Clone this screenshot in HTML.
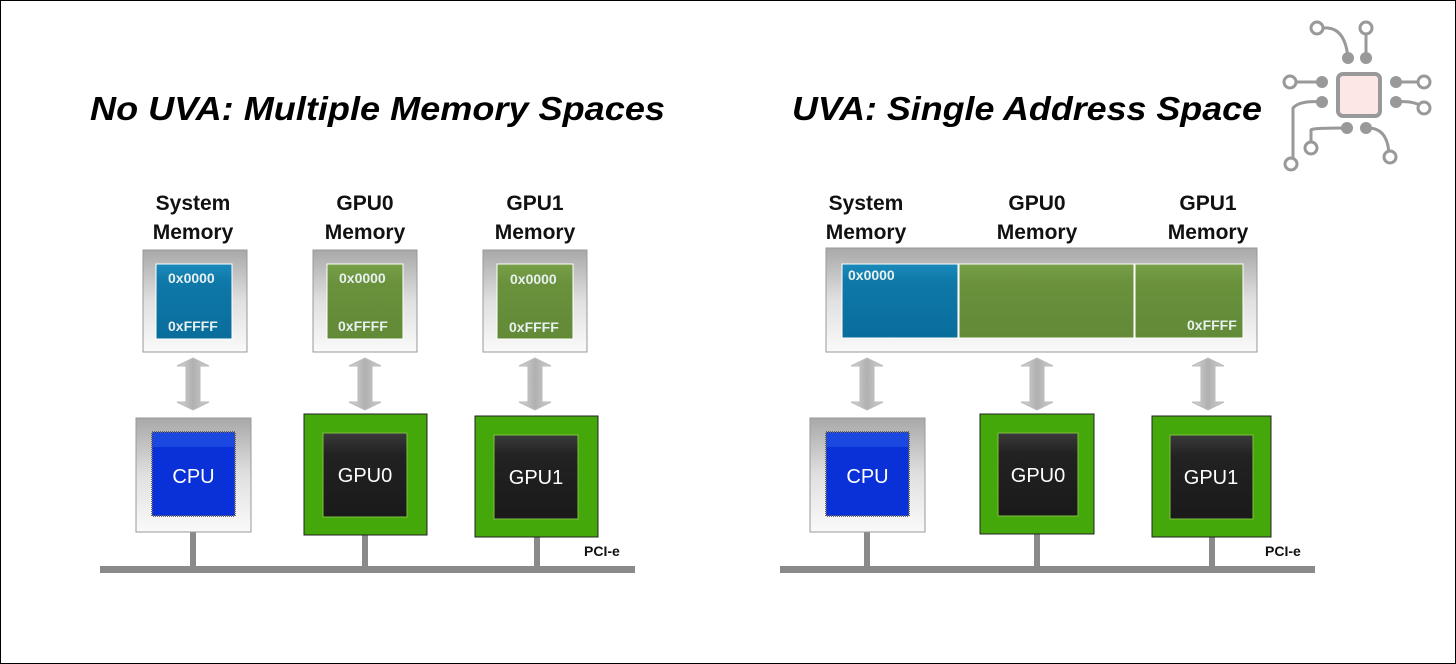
<!DOCTYPE html>
<html><head><meta charset="utf-8"><style>
html,body{margin:0;padding:0;background:#fff}
svg{display:block}
text{font-family:"Liberation Sans",sans-serif}
</style></head><body>
<svg width="1456" height="664" viewBox="0 0 1456 664" xmlns="http://www.w3.org/2000/svg">
<defs>
<linearGradient id="gbox" x1="0" y1="0" x2="0" y2="1"><stop offset="0" stop-color="#a8a8a8"/><stop offset="0.5" stop-color="#e0e0e0"/><stop offset="1" stop-color="#fafafa"/></linearGradient>
<linearGradient id="garr" x1="0" y1="0" x2="1" y2="0"><stop offset="0" stop-color="#d8d8d8"/><stop offset="0.5" stop-color="#b0b0b0"/><stop offset="1" stop-color="#d0d0d0"/></linearGradient>
<linearGradient id="gblue" x1="0" y1="0" x2="0" y2="1"><stop offset="0" stop-color="#1a8abb"/><stop offset="0.25" stop-color="#0e78a8"/><stop offset="1" stop-color="#0a6d9c"/></linearGradient>
<linearGradient id="ggreen" x1="0" y1="0" x2="0" y2="1"><stop offset="0" stop-color="#78a048"/><stop offset="0.25" stop-color="#6a913c"/><stop offset="1" stop-color="#628a37"/></linearGradient>
<linearGradient id="gdark" x1="0" y1="0" x2="0" y2="1"><stop offset="0" stop-color="#3a3a3a"/><stop offset="0.25" stop-color="#222"/><stop offset="1" stop-color="#1a1a1a"/></linearGradient>
<g id="arrow"><path d="M-7,8 L-16,8 L0,0 L16,8 L7,8 L7,44 L16,44 L0,52 L-16,44 L-7,44 Z" fill="url(#garr)" stroke="#bbb" stroke-width="1"/></g>
<g id="cpu"><rect x="0" y="0" width="115" height="114" fill="url(#gbox)" stroke="#999"/><rect x="16" y="14" width="83" height="84" fill="#0a30d8" stroke="#666" stroke-width="2" stroke-dasharray="1 1"/><rect x="17" y="15" width="81" height="14" fill="#1a48e0"/><text x="57.5" y="65" font-size="20" fill="#fff" text-anchor="middle">CPU</text></g>
</defs>
<rect x="0.5" y="0.5" width="1455" height="663" fill="#fff" stroke="#000"/>

<text x="90" y="120" font-size="33" font-weight="bold" font-style="italic" textLength="575" lengthAdjust="spacingAndGlyphs">No UVA: Multiple Memory Spaces</text>
<text x="792" y="120" font-size="33" font-weight="bold" font-style="italic" textLength="470" lengthAdjust="spacingAndGlyphs">UVA: Single Address Space</text>

<!-- labels -->
<g font-size="21" font-weight="bold" fill="#111" text-anchor="middle">
<text x="193" y="210">System</text><text x="193" y="239">Memory</text>
<text x="365" y="210">GPU0</text><text x="365" y="239">Memory</text>
<text x="535" y="210">GPU1</text><text x="535" y="239">Memory</text>
<text x="866" y="210">System</text><text x="866" y="239">Memory</text>
<text x="1037" y="210">GPU0</text><text x="1037" y="239">Memory</text>
<text x="1208" y="210">GPU1</text><text x="1208" y="239">Memory</text>
</g>

<!-- left memory boxes -->
<rect x="143" y="250" width="104" height="102" fill="url(#gbox)" stroke="#999"/>
<rect x="156" y="264" width="76" height="75" fill="url(#gblue)" stroke="#fff"/>
<rect x="313" y="250" width="104" height="102" fill="url(#gbox)" stroke="#999"/>
<rect x="327" y="264" width="76" height="75" fill="url(#ggreen)" stroke="#fff"/>
<rect x="483" y="250" width="104" height="102" fill="url(#gbox)" stroke="#999"/>
<rect x="497" y="264" width="76" height="75" fill="url(#ggreen)" stroke="#fff"/>
<g font-size="14" font-weight="bold" fill="#e8f0f0">
<text x="168" y="283">0x0000</text><text x="168" y="331">0xFFFF</text>
<text x="339" y="283">0x0000</text><text x="338" y="331">0xFFFF</text>
<text x="510" y="284">0x0000</text><text x="509" y="332">0xFFFF</text>
</g>

<!-- right memory -->
<rect x="826" y="248" width="431" height="104" fill="url(#gbox)" stroke="#999"/>
<rect x="842" y="264" width="116" height="74" fill="url(#gblue)" stroke="#fff"/>
<rect x="959" y="264" width="175" height="74" fill="url(#ggreen)" stroke="#fff"/>
<rect x="1135" y="264" width="108" height="74" fill="url(#ggreen)" stroke="#fff"/>
<g font-size="14" font-weight="bold" fill="#e8f0f0">
<text x="848" y="280">0x0000</text><text x="1187" y="330">0xFFFF</text>
</g>

<!-- arrows -->
<use href="#arrow" x="193" y="358"/><use href="#arrow" x="365" y="358"/><use href="#arrow" x="535" y="358"/>
<use href="#arrow" x="867" y="358"/><use href="#arrow" x="1037" y="358"/><use href="#arrow" x="1208" y="358"/>

<!-- stubs and bus -->
<g fill="#8a8a8a">
<rect x="190" y="532" width="6" height="36"/><rect x="362" y="535" width="6" height="33"/><rect x="534" y="537" width="6" height="31"/>
<rect x="100" y="566" width="535" height="7"/>
<rect x="864" y="532" width="6" height="36"/><rect x="1034" y="534" width="6" height="34"/><rect x="1209" y="537" width="6" height="31"/>
<rect x="780" y="566" width="535" height="7"/>
</g>
<g font-size="14" font-weight="bold" fill="#111"><text x="584" y="556">PCI-e</text><text x="1265" y="556">PCI-e</text></g>

<!-- CPUs -->
<use href="#cpu" x="136" y="418"/>
<use href="#cpu" x="810" y="418"/>

<!-- GPUs -->
<g>
<rect x="304" y="414" width="123" height="121" fill="#45a80a" stroke="#222"/>
<rect x="323" y="433" width="84" height="84" fill="url(#gdark)" stroke="#7fc040"/>
<text x="365" y="482" font-size="20" fill="#fff" text-anchor="middle">GPU0</text>
<rect x="475" y="416" width="123" height="121" fill="#45a80a" stroke="#222"/>
<rect x="494" y="435" width="84" height="84" fill="url(#gdark)" stroke="#7fc040"/>
<text x="536" y="484" font-size="20" fill="#fff" text-anchor="middle">GPU1</text>
<rect x="980" y="414" width="114" height="120" fill="#45a80a" stroke="#222"/>
<rect x="998" y="433" width="80" height="83" fill="url(#gdark)" stroke="#7fc040"/>
<text x="1038" y="482" font-size="20" fill="#fff" text-anchor="middle">GPU0</text>
<rect x="1152" y="416" width="119" height="121" fill="#45a80a" stroke="#222"/>
<rect x="1170" y="435" width="83" height="84" fill="url(#gdark)" stroke="#7fc040"/>
<text x="1211" y="484" font-size="20" fill="#fff" text-anchor="middle">GPU1</text>
</g>

<!-- logo -->
<g stroke="#999" stroke-width="3" fill="none">
<rect x="1338" y="74" width="42" height="42" rx="5" fill="#fde6e6" stroke-width="4"/>
<path d="M1323,28 Q1345,26 1348,58"/><path d="M1366,28 L1366,58"/>
<path d="M1294,82 L1322,82"/><path d="M1322,102 Q1300,100 1293,108 L1293,162"/>
<path d="M1311,148 L1311,130 Q1311,128 1345,128"/><path d="M1368,128 Q1388,128 1389,155"/>
<path d="M1396,82 L1424,82"/><path d="M1396,102 Q1415,100 1424,108"/>
</g>
<g fill="#999">
<circle cx="1348" cy="58" r="6"/><circle cx="1366" cy="58" r="6"/>
<circle cx="1322" cy="82" r="6"/><circle cx="1322" cy="102" r="6"/>
<circle cx="1396" cy="82" r="6"/><circle cx="1396" cy="102" r="6"/>
<circle cx="1347" cy="128" r="6"/><circle cx="1366" cy="128" r="6"/>
</g>
<g fill="#fff" stroke="#999" stroke-width="3">
<circle cx="1317" cy="28" r="6"/><circle cx="1366" cy="28" r="6"/>
<circle cx="1290" cy="82" r="6"/><circle cx="1424" cy="82" r="6"/>
<circle cx="1424" cy="108" r="6"/><circle cx="1311" cy="148" r="6"/>
<circle cx="1390" cy="157" r="6"/><circle cx="1291" cy="164" r="6"/>
</g>
</svg>
</body></html>
